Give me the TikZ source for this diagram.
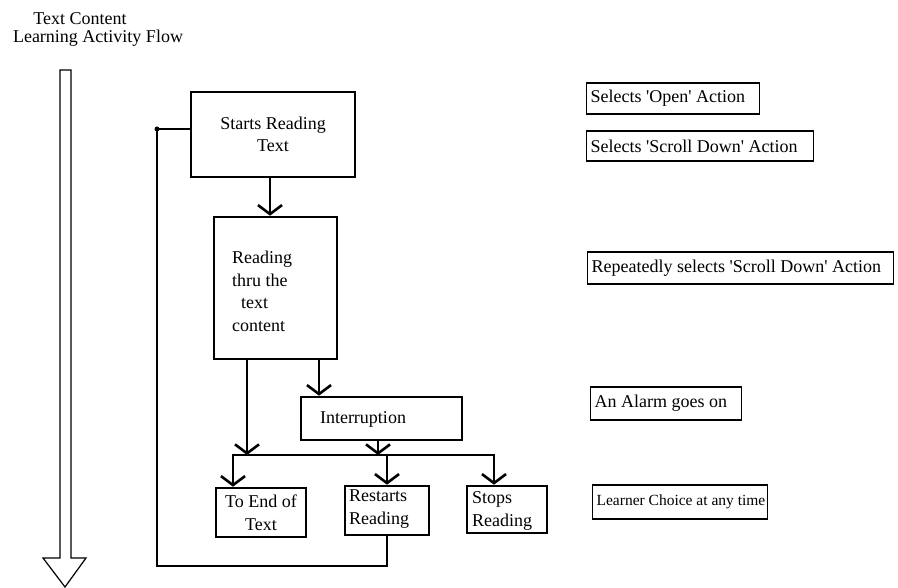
\documentclass[tikz,border=0pt]{standalone}
\usepackage{fontspec}
\setmainfont{Liberation Serif}
\usetikzlibrary{arrows.meta}
\newcommand{\sq}{\textquotesingle}
\begin{document}
\begin{tikzpicture}[x=1pt,y=-1pt,
  every node/.style={font=\fontsize{18}{22.5}\selectfont},
  flowbox/.style={draw, line width=2.6pt, inner sep=0pt, align=center},
  notebox/.style={draw, line width=1.2pt, inner xsep=4pt, inner ysep=0pt, anchor=west},
  flowline/.style={line width=2.6pt},
  barb/.tip={Straight Barb[length=9pt,width=24pt]},
  arr/.style={flowline, -barb},
  dblarr/.style={flowline, barb-barb, line join=miter},
  lbl/.style={inner sep=0pt, align=left}
]
\useasboundingbox (0,0) rectangle (898,588);

% title
\node (t1) at (80,19) {Text Content};
\node (t2) at (98,38) {Learning Activity Flow};

% hollow time arrow
\draw[line width=1.2pt, line join=miter] (60,70) -- (71,70) -- (71,558) -- (86,558) -- (65,587) -- (43,558) -- (60,558) -- cycle;

% flow boxes
\node[flowbox, minimum width=164pt, minimum height=85pt] (starts) at (273,134.5) {Starts Reading\\Text};
\node[flowbox, minimum width=123pt, minimum height=142pt] (read) at (275.5,288) {};
\node[lbl, anchor=west] (readtxt) at (232,291.5) {Reading\\thru the\\\hspace{9pt}text\\content};
\node[flowbox, minimum width=161pt, minimum height=43pt] (intr) at (381.5,418.5) {};
\node[lbl] (intrtxt) at (363,419) {Interruption};
\node[flowbox, minimum width=90pt, minimum height=49pt] (toend) at (261,512.5) {To End of\\Text};
\node[flowbox, minimum width=84pt, minimum height=49pt] (restarts) at (387,510.5) {};
\node[lbl, anchor=west] (restartstxt) at (349,509) {Restarts\\Reading};
\node[flowbox, minimum width=80pt, minimum height=47pt] (stops) at (507,509.5) {};
\node[lbl, anchor=west] (stopstxt) at (472,511) {Stops\\Reading};

% note boxes
\node[notebox, minimum height=31pt] (n1) at (586,98.5) {\makebox[165pt][l]{Selects \sq Open\sq{} Action}};
\node[notebox, minimum height=30pt] (n2) at (586,146) {\makebox[219pt][l]{Selects \sq Scroll Down\sq{} Action}};
\node[notebox, minimum height=32pt] (n3) at (587,268) {\makebox[298pt][l]{Repeatedly selects \sq Scroll Down\sq{} Action}};
\node[notebox, minimum height=33pt] (n4) at (590,403.5) {\makebox[143pt][l]{An Alarm goes on}};
\node[notebox, minimum height=34pt] (n5) at (592,502) {\makebox[167pt][l]{\fontsize{15.5}{18}\selectfont Learner Choice at any time}};

% connector coordinates
\coordinate (xa) at (270,0);
\coordinate (xb) at (247,0);
\coordinate (xc) at (319,0);
\coordinate (xd) at (378,0);
\coordinate (xf) at (387,0);
\coordinate (br) at (0,455);
\coordinate (bl) at (233,455);
\coordinate (bR) at (494,455);
\coordinate (lt) at (157,129);
\coordinate (lb) at (157,566);

% connectors
\draw[arr] (starts.south -| xa) -- (read.north -| xa);
\draw[arr] (read.south -| xb) -- (br -| xb);
\draw[arr] (read.south -| xc) -- (intr.north -| xc);
\draw[arr] (intr.south -| xd) -- (br -| xd);
\draw[dblarr] (toend.north -| bl) -- (bl) -- (bR) -- (stops.north -| bR);
\draw[arr] (br -| xf) -- (restarts.north -| xf);
\draw[flowline, line join=miter] (restarts.south -| xf) |- (lb) -- (lt) -- (lt -| starts.west);
\fill (lt) circle (2.5pt);
\end{tikzpicture}
\end{document}
